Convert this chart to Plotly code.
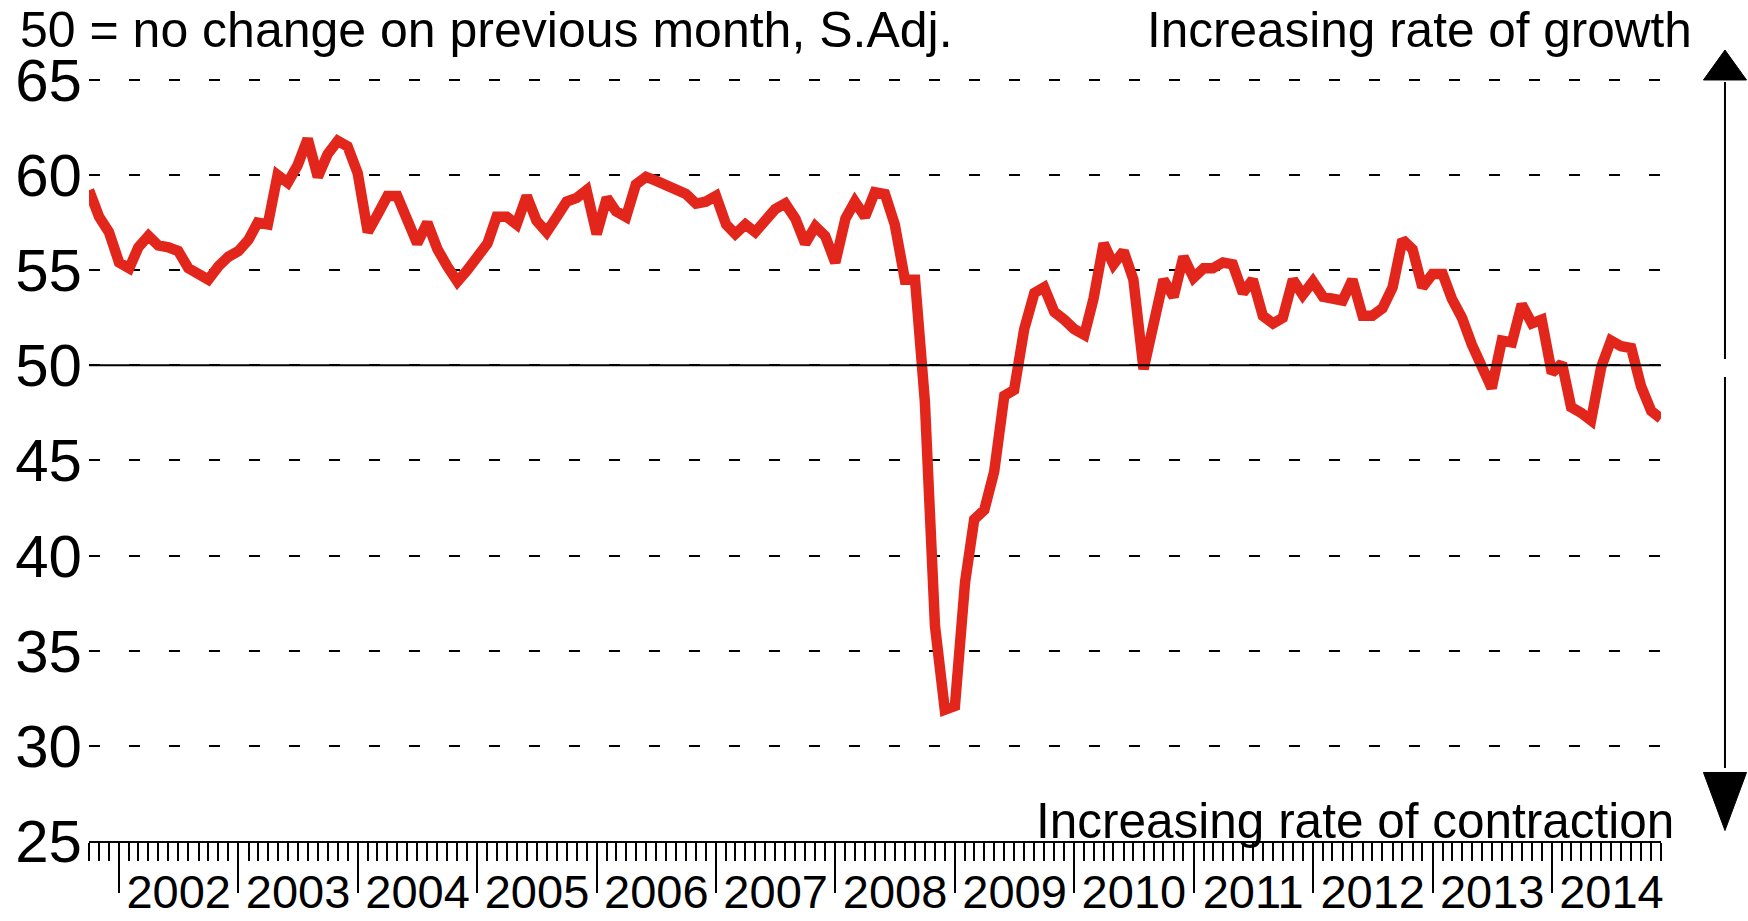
import plotly.graph_objects as go
import pandas as pd

# ---- data ----
start_month = "2001-10-01"
index_values = [
    59.2, 57.8, 57.0, 55.4, 55.1, 56.2, 56.8, 56.3, 56.2, 56.0,
    55.1, 54.8, 54.5, 55.2, 55.7, 56.0, 56.6, 57.5, 57.4, 60.0,
    59.6, 60.5, 61.9, 59.9, 61.1, 61.8, 61.5, 60.1, 57.0, 57.9,
    58.9, 58.9, 57.6, 56.4, 57.5, 56.1, 55.2, 54.4, 55.0, 55.6,
    56.4, 57.8, 57.8, 57.4, 58.9, 57.6, 57.0, 57.8, 58.6, 58.8,
    59.2, 56.9, 58.8, 58.1, 57.8, 59.5, 59.9, 59.7, 59.5, 59.2,
    59.0, 58.5, 58.6, 58.9, 57.4, 56.9, 57.4, 57.0, 57.6, 58.2,
    58.5, 57.7, 56.4, 57.3, 56.8, 55.4, 57.7, 58.6, 57.8, 59.1,
    59.0, 57.4, 54.5, 54.5, 48.1, 36.3, 31.9, 32.1, 38.6, 41.9,
    42.4, 44.4, 48.4, 48.7, 51.9, 53.8, 54.1, 52.8, 52.4, 51.9,
    51.6, 53.5, 56.4, 55.3, 56.0, 54.5, 49.8, 52.2, 54.5, 53.6,
    55.7, 54.6, 55.1, 55.1, 55.4, 55.3, 53.8, 54.5, 52.6, 52.2,
    52.5, 54.5, 53.7, 54.4, 53.6, 53.5, 53.4, 54.5, 52.6, 52.6,
    53.0, 54.1, 56.6, 56.1, 54.1, 54.8, 54.8, 53.5, 52.5, 51.1,
    50.0, 48.8, 51.3, 51.2, 53.2, 52.2, 52.4, 49.6, 50.1, 47.8,
    47.5, 47.1, 49.9, 51.3, 51.0, 50.9, 48.9, 47.6, 47.2,
]
months = pd.date_range(start_month, periods=len(index_values), freq="MS")
y_ticks = [25, 30, 35, 40, 45, 50, 55, 60, 65]
no_change_level = 50

FONT = "Liberation Sans, Arial, sans-serif"

fig = go.Figure()
fig.add_trace(go.Scatter(
    x=months, y=index_values, mode="lines",
    line=dict(color="#E2261B", width=10.5, shape="linear"),
    hoverinfo="skip", showlegend=False,
))

fig.update_layout(
    width=1748, height=921,
    margin=dict(l=89, r=87, t=77, b=80, pad=0, autoexpand=False),
    paper_bgcolor="white", plot_bgcolor="white",
    font=dict(family=FONT, color="black"),
    showlegend=False,
)

fig.update_xaxes(
    type="date", automargin=False,
    range=[months[0], months[-1]],
    tick0="2002-01-01", dtick="M12",
    ticks="outside", ticklen=50, tickwidth=2, tickcolor="black",
    ticklabelmode="period", tickformat="%Y",
    tickfont=dict(size=47, family=FONT, color="black"),
    ticklabelstandoff=-41,
    minor=dict(dtick="M1", tick0="2001-10-01", ticks="outside", ticklen=18,
               tickwidth=2, tickcolor="black", showgrid=False),
    showline=True, linecolor="black", linewidth=2,
    showgrid=False, zeroline=False,
)

fig.update_yaxes(
    range=[25, 65.15], automargin=False,
    tickvals=y_ticks,
    ticks="", ticklabelstandoff=6,
    tickfont=dict(size=60, family=FONT, color="black"),
    showgrid=True, gridcolor="black", gridwidth=2, griddash="11px,29px",
    zeroline=False, showline=False,
)

# solid 50 line
fig.add_shape(type="line", xref="paper", x0=0, x1=1, yref="y",
              y0=no_change_level, y1=no_change_level,
              line=dict(color="black", width=2))

# right-hand arrow
ax_x = 1.0407
hw = 0.0137
fig.add_shape(type="line", xref="paper", yref="paper", x0=ax_x, x1=ax_x,
              y0=0.9935, y1=0.6309, line=dict(color="black", width=2))
fig.add_shape(type="line", xref="paper", yref="paper", x0=ax_x, x1=ax_x,
              y0=0.6073, y1=0.0955, line=dict(color="black", width=2))
fig.add_shape(type="path", xref="paper", yref="paper",
              path=f"M {ax_x-hw},0.9961 L {ax_x+hw},0.9961 L {ax_x},1.0353 Z",
              fillcolor="black", line=dict(color="black", width=1))
fig.add_shape(type="path", xref="paper", yref="paper",
              path=f"M {ax_x-hw},0.0897 L {ax_x+hw},0.0897 L {ax_x},0.0137 Z",
              fillcolor="black", line=dict(color="black", width=1))

fig.add_annotation(text="50 = no change on previous month, S.Adj.",
                   xref="paper", yref="paper", x=-0.0452, y=1.1005,
                   xanchor="left", yanchor="top", showarrow=False,
                   font=dict(size=50, family=FONT, color="black"))
fig.add_annotation(text="Increasing rate of growth",
                   xref="paper", yref="paper", x=1.0213, y=1.1005,
                   xanchor="right", yanchor="top", showarrow=False,
                   font=dict(size=49.5, family=FONT, color="black"))
fig.add_annotation(text="Increasing rate of contraction",
                   xref="paper", yref="paper", x=1.0093, y=0.0268,
                   xanchor="right", yanchor="middle", showarrow=False,
                   font=dict(size=49.5, family=FONT, color="black"))

fig.write_html("out.html", config={"displayModeBar": False},
               post_script="document.body.style.margin='0';document.body.style.overflow='hidden';")
